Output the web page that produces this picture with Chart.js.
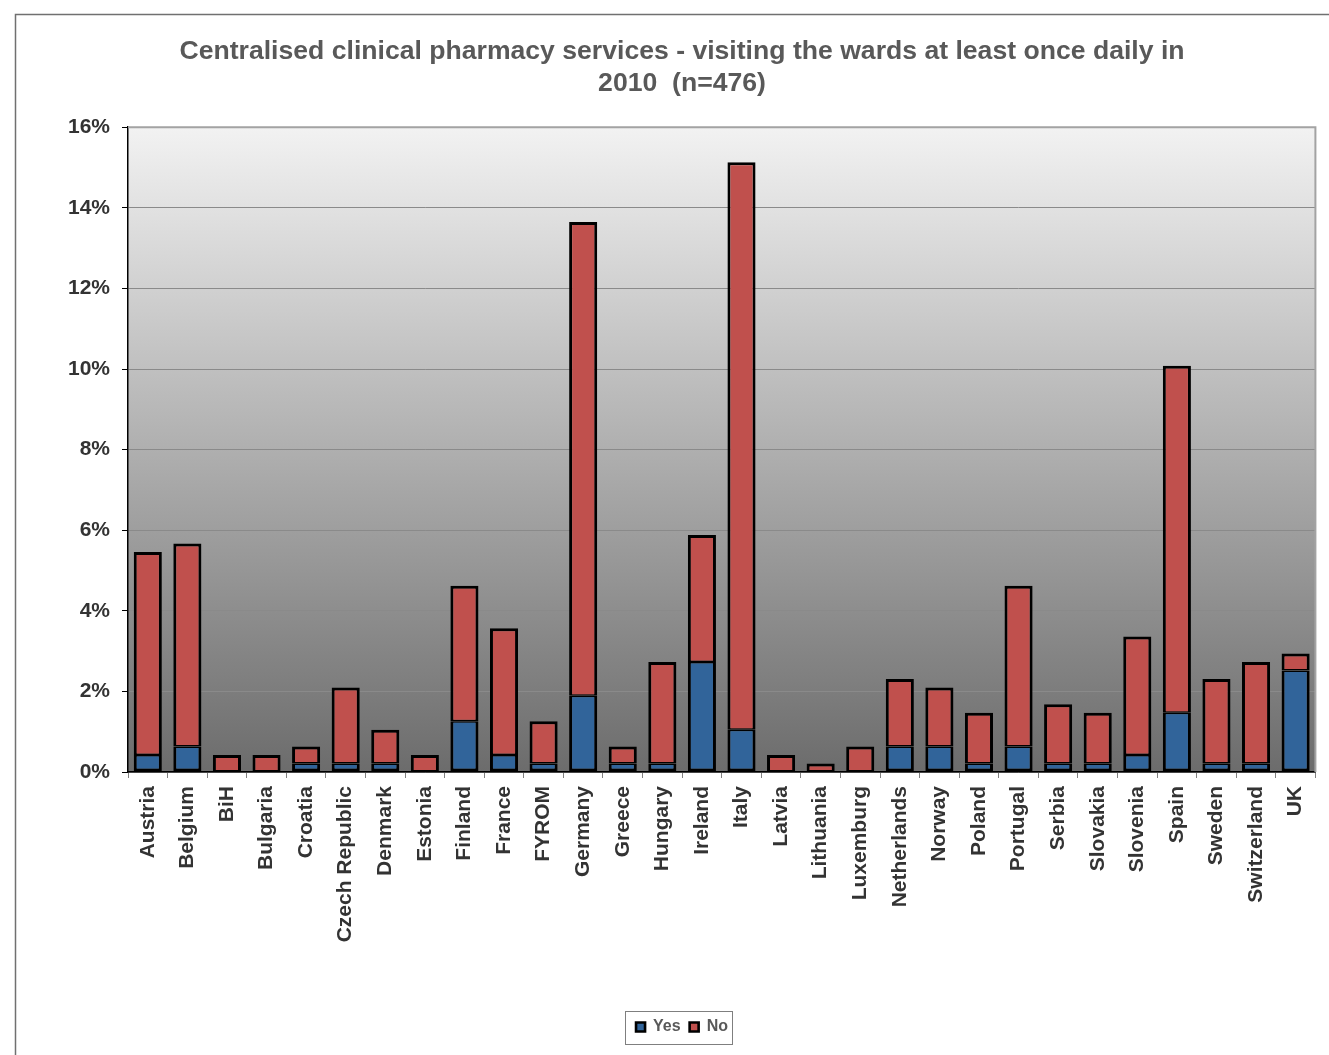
<!DOCTYPE html>
<html><head><meta charset="utf-8">
<script src="https://cdn.jsdelivr.net/npm/chart.js@4.4.1/dist/chart.umd.min.js"></script>
<style>html,body{margin:0;padding:0;background:#fff;}canvas{display:block;}</style>
</head><body>
<canvas id="c" width="1329" height="1055"></canvas>
<script>
const titleLines = ['Centralised clinical pharmacy services - visiting the wards at least once daily in', '2010  (n=476)'];
const countries = ['Austria','Belgium','BiH','Bulgaria','Croatia','Czech Republic','Denmark','Estonia','Finland','France','FYROM','Germany','Greece','Hungary','Ireland','Italy','Latvia','Lithuania','Luxemburg','Netherlands','Norway','Poland','Portugal','Serbia','Slovakia','Slovenia','Spain','Sweden','Switzerland','UK'];
const yesValues = [0.42,0.63,0,0,0.21,0.21,0.21,0,1.26,0.42,0.21,1.89,0.21,0.21,2.73,1.05,0,0,0,0.63,0.63,0.21,0.63,0.21,0.21,0.42,1.47,0.21,0.21,2.52];
const noValues = [5.04,5.04,0.42,0.42,0.42,1.89,0.84,0.42,3.36,3.15,1.05,11.76,0.42,2.52,3.15,14.08,0.42,0.21,0.63,1.68,1.47,1.26,3.99,1.47,1.26,2.94,8.61,2.10,2.52,0.42];
const seriesNames = ['Yes','No'];
const yMin = 0, yMax = 16, yStep = 2;

Chart.defaults.font.family = '"Liberation Sans", Arial, sans-serif';

const decor = {
  id: 'decor',
  beforeDraw(chart) {
    const {ctx, chartArea: a} = chart;
    ctx.save();
    const g = ctx.createLinearGradient(0, a.top, 0, a.bottom);
    g.addColorStop(0, '#f2f2f2');
    g.addColorStop(1, '#6c6c6c');
    ctx.fillStyle = g;
    ctx.fillRect(a.left, a.top, a.right - a.left, a.bottom - a.top);
    ctx.restore();
  },
  afterDraw(chart) {
    const {ctx, chartArea: a} = chart;
    ctx.save();
    ctx.strokeStyle = '#a3a3a3';
    ctx.lineWidth = 2;
    ctx.beginPath();
    ctx.moveTo(a.left, a.top);
    ctx.lineTo(a.right, a.top);
    ctx.lineTo(a.right, a.bottom);
    ctx.stroke();
    ctx.strokeStyle = '#707070';
    ctx.lineWidth = 1.5;
    ctx.beginPath();
    ctx.moveTo(15.5, 1055);
    ctx.lineTo(15.5, 14.5);
    ctx.lineTo(1329, 14.5);
    ctx.stroke();
    const hb = chart.legend.legendHitBoxes;
    if (hb && hb.length) {
      const l = hb[0].left - 11;
      const r = hb[hb.length - 1].left + hb[hb.length - 1].width + 4;
      ctx.strokeStyle = '#7f7f7f';
      ctx.lineWidth = 1;
      ctx.strokeRect(Math.round(l) + 0.5, 1011.5, Math.round(r - l), 33);
    }
    ctx.restore();
  }
};

new Chart(document.getElementById('c'), {
  type: 'bar',
  data: {
    labels: countries,
    datasets: [
      {label: seriesNames[0], data: yesValues, backgroundColor: '#31649a', borderColor: '#000000',
       borderWidth: {top: 1.5, left: 3, right: 3, bottom: 3}, borderSkipped: false},
      {label: seriesNames[1], data: noValues, backgroundColor: '#c0504d', borderColor: '#000000',
       borderWidth: {top: 3, left: 3, right: 3, bottom: 1.5}, borderSkipped: false}
    ]
  },
  options: {
    responsive: false,
    animation: false,
    devicePixelRatio: 1,
    barPercentage: 0.71,
    categoryPercentage: 1,
    layout: {padding: {left: 46, right: 11, top: 0, bottom: 10}},
    plugins: {
      title: {
        display: true,
        text: titleLines,
        color: '#595959',
        font: {size: 26.6, weight: 'bold', lineHeight: 1.17},
        padding: {top: 36.5, bottom: 28.5}
      },
      legend: {
        position: 'bottom',
        labels: {boxWidth: 9, boxHeight: 9, color: '#595959', font: {size: 16, weight: 'bold'}, padding: 9}
      },
      tooltip: {enabled: false}
    },
    scales: {
      x: {
        stacked: true,
        afterFit(s) { s.height = 238; },
        grid: {drawOnChartArea: false, drawTicks: true, tickLength: 6, tickColor: '#808080', offset: true},
        border: {display: true, color: '#000000', width: 1.5},
        ticks: {autoSkip: false, maxRotation: 90, minRotation: 90, padding: 8, color: '#333333', font: {size: 21, weight: 'bold'}}
      },
      y: {
        stacked: true,
        min: yMin, max: yMax,
        afterFit(s) { s.width = 82; },
        grid: {color: '#8a8a8a', lineWidth: 1, tickLength: 6, tickColor: '#000000'},
        border: {display: true, color: '#000000', width: 1.5},
        ticks: {stepSize: yStep, padding: 12, color: '#333333', font: {size: 21, weight: 'bold'}, callback: v => v + '%'}
      }
    }
  },
  plugins: [decor]
});
</script>
</body></html>
